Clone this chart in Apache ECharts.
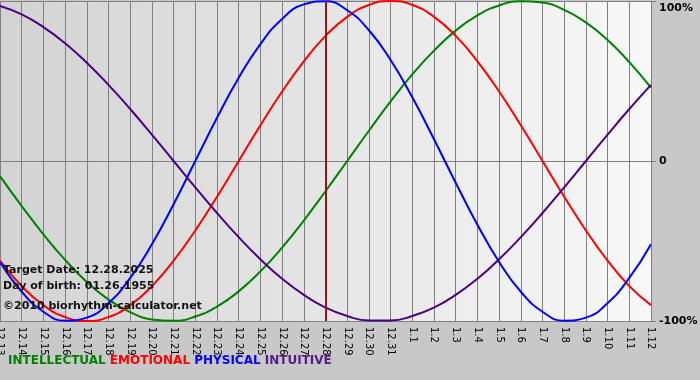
<!DOCTYPE html>
<html><head><meta charset="utf-8">
<script src="https://cdn.jsdelivr.net/npm/echarts@6/dist/echarts.min.js"></script>
<style>html,body{margin:0;padding:0;background:#c8c8c8}#c{width:700px;height:380px}</style>
</head><body><div id="c"></div>
<script>
var dates = ['12.13','12.14','12.15','12.16','12.17','12.18','12.19','12.20','12.21','12.22','12.23','12.24','12.25','12.26','12.27','12.28','12.29','12.30','12.31','1.1','1.2','1.3','1.4','1.5','1.6','1.7','1.8','1.9','1.10','1.11','1.12'];
var intellectual = [-9.5,-28.2,-45.8,-61.8,-75.6,-86.6,-94.5,-99.0,-99.9,-97.2,-91.0,-81.5,-69.0,-54.1,-37.2,-18.9,0,18.9,37.2,54.1,69.0,81.5,91.0,97.2,99.9,99.0,94.5,86.6,75.6,61.8,45.8];
var emotional = [-62.3,-78.2,-90.1,-97.5,-100,-97.5,-90.1,-78.2,-62.3,-43.4,-22.3,0,22.3,43.4,62.3,78.2,90.1,97.5,100,97.5,90.1,78.2,62.3,43.4,22.3,0,-22.3,-43.4,-62.3,-78.2,-90.1];
var physical = [-63.1,-81.7,-94.2,-99.8,-97.9,-88.8,-73.1,-52.0,-27.0,0,27.0,52.0,73.1,88.8,97.9,99.8,94.2,81.7,63.1,39.8,13.6,-13.6,-39.8,-63.1,-81.7,-94.2,-99.8,-97.9,-88.8,-73.1,-52.0];
var intuitive = [96.9,91.6,83.7,73.6,61.4,47.6,32.5,16.5,0,-16.5,-32.5,-47.6,-61.4,-73.6,-83.7,-91.6,-96.9,-99.7,-99.7,-96.9,-91.6,-83.7,-73.6,-61.4,-47.6,-32.5,-16.5,0,16.5,32.5,47.6];
var yTicks = {'100':'100%','0':'0','-100':'-100%'};
var targetDate = '12.28';
var infoLines = ['Target Date: 12.28.2025','Day of birth: 01.26.1955'];
var copyright = '©2010 biorhythm-calculator.net';
var legendNames = ['INTELLECTUAL','EMOTIONAL','PHYSICAL','INTUITIVE'];
var colors = ['#008000','#ff0000','#0000ff','#4b0082'];

var chart = echarts.init(document.getElementById('c'));
function ser(name, data, color, extra){
  var s = {name:name,type:'line',data:data,smooth:true,symbol:'none',
    lineStyle:{color:color,width:2},itemStyle:{color:color},z:3};
  if(extra) Object.assign(s, extra);
  return s;
}
var font = 'DejaVu Sans, Verdana, sans-serif';
chart.setOption({
  animation:false,
  backgroundColor:'#c8c8c8',
  grid:{left:0,right:49,top:1,bottom:59,show:true,borderWidth:0,containLabel:false,outerBoundsMode:'none',
    backgroundColor:new echarts.graphic.LinearGradient(0,0,1,0,[{offset:0,color:'#d3d3d3'},{offset:1,color:'#f8f8f8'}])},
  xAxis:{type:'category',data:dates,boundaryGap:false,
    axisLine:{show:true,lineStyle:{color:'#808080',width:1}},
    axisTick:{show:true,interval:0,length:4,lineStyle:{color:'#808080'}},
    axisLabel:{interval:0,rotate:-90,color:'#000',fontSize:10,fontFamily:font,margin:6},
    splitLine:{show:true,interval:0,lineStyle:{color:'#808080',width:1}}},
  yAxis:{type:'value',min:-100,max:100,interval:100,position:'right',
    axisLine:{show:false},
    axisTick:{show:true,length:5,lineStyle:{color:'#808080'}},
    axisLabel:{color:'#000',fontWeight:'bold',fontSize:11,fontFamily:font,margin:8,
      formatter:function(v){return v===100 ? '{t|'+yTicks[String(v)]+'}' : yTicks[String(v)];},
      rich:{t:{padding:[14,0,0,0],fontWeight:'bold',fontSize:11,fontFamily:font,color:'#000'}}},
    splitLine:{show:true,lineStyle:{color:'#808080',width:1}}},
  series:[
    ser(legendNames[0],intellectual,colors[0]),
    ser(legendNames[1],emotional,colors[1]),
    ser(legendNames[2],physical,colors[2]),
    ser(legendNames[3],intuitive,colors[3],{markLine:{symbol:'none',silent:true,label:{show:false},
      lineStyle:{color:'#8b1a1a',width:2,type:'solid'},data:[{xAxis:targetDate}]}})
  ],
  graphic:[
    {type:'text',left:3,top:265,z:100,style:{text:infoLines[0],fill:'#111',font:'bold 11px '+font}},
    {type:'text',left:3,top:281,z:100,style:{text:infoLines[1],fill:'#111',font:'bold 11px '+font}},
    {type:'text',left:3,top:301,z:100,style:{text:copyright,fill:'#111',font:'bold 11px '+font}},
    {type:'text',left:8,top:355,z:100,style:{
      text:'{a|'+legendNames[0]+'} {b|'+legendNames[1]+'} {c|'+legendNames[2]+'} {d|'+legendNames[3]+'}',
      font:'bold 12px '+font,
      rich:{a:{fill:colors[0],font:'bold 12px '+font},b:{fill:colors[1],font:'bold 12px '+font},
            c:{fill:colors[2],font:'bold 12px '+font},d:{fill:'#551a8b',font:'bold 12px '+font}}}}
  ]
});
</script></body></html>
